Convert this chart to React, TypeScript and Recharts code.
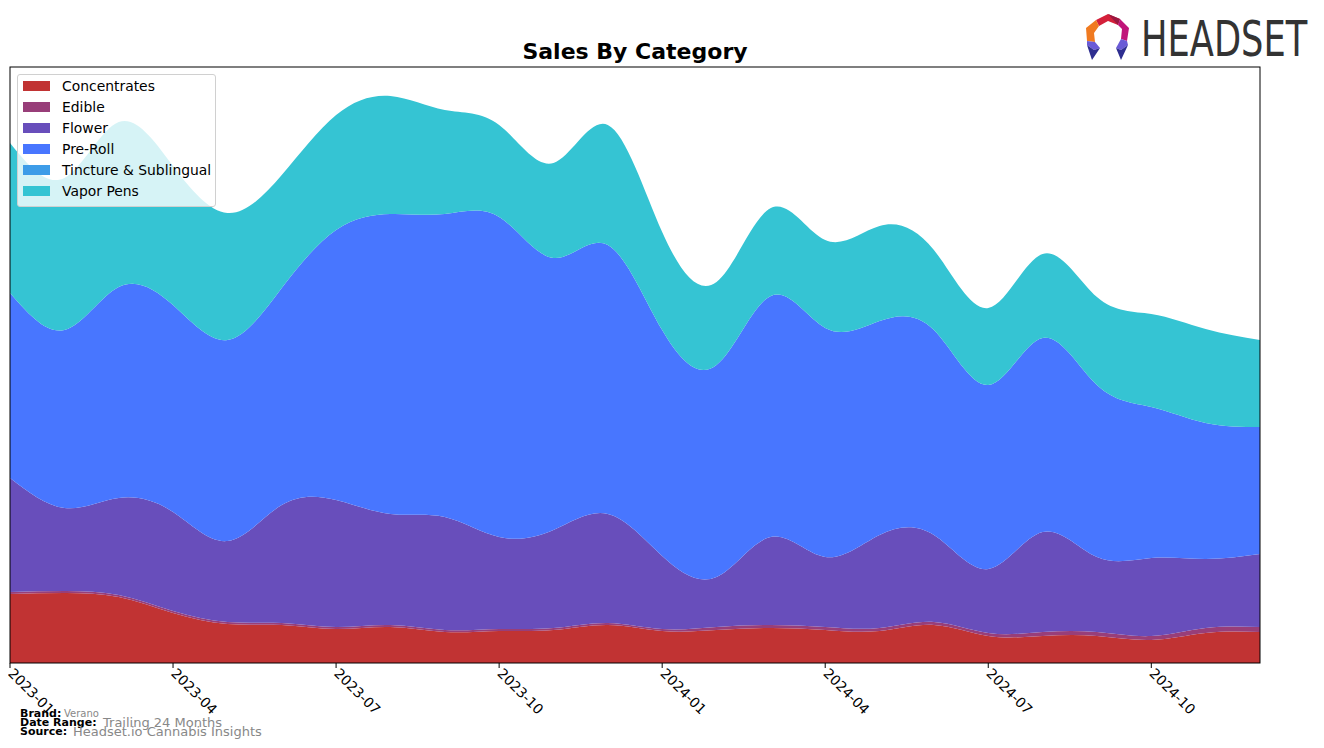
import React from "react";
import { AreaChart, Area, XAxis, YAxis } from "recharts";

const months = [
  "2023-01", "2023-02", "2023-03", "2023-04", "2023-05", "2023-06",
  "2023-07", "2023-08", "2023-09", "2023-10", "2023-11", "2023-12",
  "2024-01", "2024-02", "2024-03", "2024-04", "2024-05", "2024-06",
  "2024-07", "2024-08", "2024-09", "2024-10", "2024-11", "2024-12",
];

const concentrates = [69, 70, 66, 50, 39, 38, 34, 36, 31, 32, 33, 38, 32, 33, 35, 33, 32, 38, 27, 27, 27, 23, 30, 31];
const edible = [2, 2, 2, 2, 2, 2, 2, 2, 2, 2, 2, 2, 2, 3, 3, 3, 3, 3, 3, 4, 4, 4, 5, 5];
const flower = [114, 83, 97, 99, 81, 118, 127, 111, 113, 92, 98, 109, 73, 50, 88, 70, 93, 87, 64, 100, 75, 78, 69, 73];
const preRoll = [185, 178, 211, 207, 201, 217, 270, 300, 303, 320, 272, 269, 226, 212, 241, 229, 214, 205, 184, 194, 172, 151, 136, 127];
const tincture = [0, 0, 0, 0, 0, 0, 0, 0, 0, 0, 0, 0, 0, 0, 0, 0, 0, 0, 0, 0, 0, 0, 0, 0];
const vaporPens = [150, 152, 165, 139, 127, 113, 115, 118, 104, 92, 95, 120, 98, 83, 88, 88, 95, 80, 77, 84, 88, 93, 94, 87];

const seriesNames = ["Concentrates", "Edible", "Flower", "Pre-Roll", "Tincture & Sublingual", "Vapor Pens"];
const seriesValues = [concentrates, edible, flower, preRoll, tincture, vaporPens];
const seriesColors = ["#C13333", "#983E79", "#684EBB", "#4876FF", "#3D9CE8", "#35C4D3"];

const data = months.map((m, i) => {
  const row: Record<string, any> = { month: m };
  seriesNames.forEach((n, k) => {
    row[n] = seriesValues[k][i];
  });
  return row;
});

const FONT = "'DejaVu Sans', sans-serif";

const Tick = (props: any) => {
  const { x, y, payload } = props;
  return (
    <g transform={`translate(${x},${y})`}>
      <text
        transform="rotate(45)"
        x={1}
        y={0}
        dy="0.35em"
        textAnchor="start"
        fontFamily={FONT}
        fontSize={13.9}
        fill="#000"
      >
        {payload.value}
      </text>
    </g>
  );
};

const LegendBox = () => (
  <div
    style={{
      position: "absolute",
      left: 9,
      top: 66,
      background: "rgba(255,255,255,0.8)",
      border: "1px solid #d0d0d0",
      borderRadius: 3,
      padding: "0px 4px 5px 5px",
      fontFamily: FONT,
      fontSize: 13.9,
      color: "#000",
      width: 188,
      boxSizing: "content-box",
      pointerEvents: "none",
      whiteSpace: "nowrap",
    }}
  >
    {seriesNames.map((n, k) => (
      <div key={n} style={{ display: "flex", alignItems: "center", height: 21 }}>
        <span style={{ display: "inline-block", flex: "0 0 27px", width: 27, height: 10, background: seriesColors[k], marginRight: 12 }} />
        <span>{n}</span>
      </div>
    ))}
  </div>
);

export default function App() {
  const W = 1316;
  const H = 740;
  return (
    <div style={{ position: "relative", width: W, height: H }}>
      <AreaChart
        width={W}
        height={H}
        data={data}
        margin={{ top: 59, right: 64, left: 2, bottom: 0 }}
      >
        <XAxis
          dataKey="month"
          interval={2}
          tick={<Tick />}
          tickLine={{ stroke: "#000" }}
          axisLine={false}
          tickSize={5}
          height={85}
        />
        <YAxis hide domain={[0, 596]} width={0} />
        {seriesNames.map((n, k) => (
          <Area
            key={n}
            type="natural"
            dataKey={n}
            stackId="1"
            stroke={seriesColors[k]}
            strokeWidth={0}
            fill={seriesColors[k]}
            fillOpacity={1}
            isAnimationActive={false}
            dot={false}
            activeDot={false}
          />
        ))}
      </AreaChart>
      <LegendBox />
      <svg
        width={W}
        height={H}
        style={{ position: "absolute", left: 0, top: 0, pointerEvents: "none" }}
      >
        <rect x={2} y={59} width={1250} height={596} fill="none" stroke="#000" strokeWidth={1} />
        <text x={627} y={51} textAnchor="middle" fontFamily={FONT} fontWeight="bold" fontSize={22} fill="#000">
          Sales By Category
        </text>
        {/* logo */}
        <g>
          <polygon points="1088,12 1100,6 1112,11 1110,17 1100,13 1091,18" fill="#D4203A" />
          <polygon points="1100,6 1112,11 1110,17" fill="#9A1840" />
          <polygon points="1112,11 1121,20 1119,33 1113,31 1114,21 1110,17" fill="#C0157A" />
          <polygon points="1088,12 1091,18 1086,25 1087,34 1079,33 1078,20" fill="#F07A20" />
          <polygon points="1079,33 1087,34 1092,40 1086,42 1079,37" fill="#6A5BD6" />
          <polygon points="1079,37 1086,42 1092,40 1084,52" fill="#2E2E90" />
          <polygon points="1119,33 1120,37 1113,42 1108,40 1113,31" fill="#6A5BD6" />
          <polygon points="1120,37 1113,52 1108,40 1113,42" fill="#2E2E90" />
        </g>
        <g transform="translate(1133,48) scale(0.72,1)">
          <text x={0} y={0} fontFamily={FONT} fontSize={49} fill="#333">
            HEADSET
          </text>
        </g>
        {/* footer */}
        <text x={12} y={709} fontFamily={FONT} fontSize={11} fontWeight="bold" fill="#000">Brand:</text>
        <text x={56} y={709} fontFamily={FONT} fontSize={10} fill="#888">Verano</text>
        <text x={12} y={718} fontFamily={FONT} fontSize={11} fontWeight="bold" fill="#000">Date Range:</text>
        <text x={95} y={719} fontFamily={FONT} fontSize={13} fill="#888">Trailing 24 Months</text>
        <text x={12} y={727} fontFamily={FONT} fontSize={11} fontWeight="bold" fill="#000">Source:</text>
        <text x={65} y={728} fontFamily={FONT} fontSize={13} fill="#888">Headset.io Cannabis Insights</text>
      </svg>
    </div>
  );
}
